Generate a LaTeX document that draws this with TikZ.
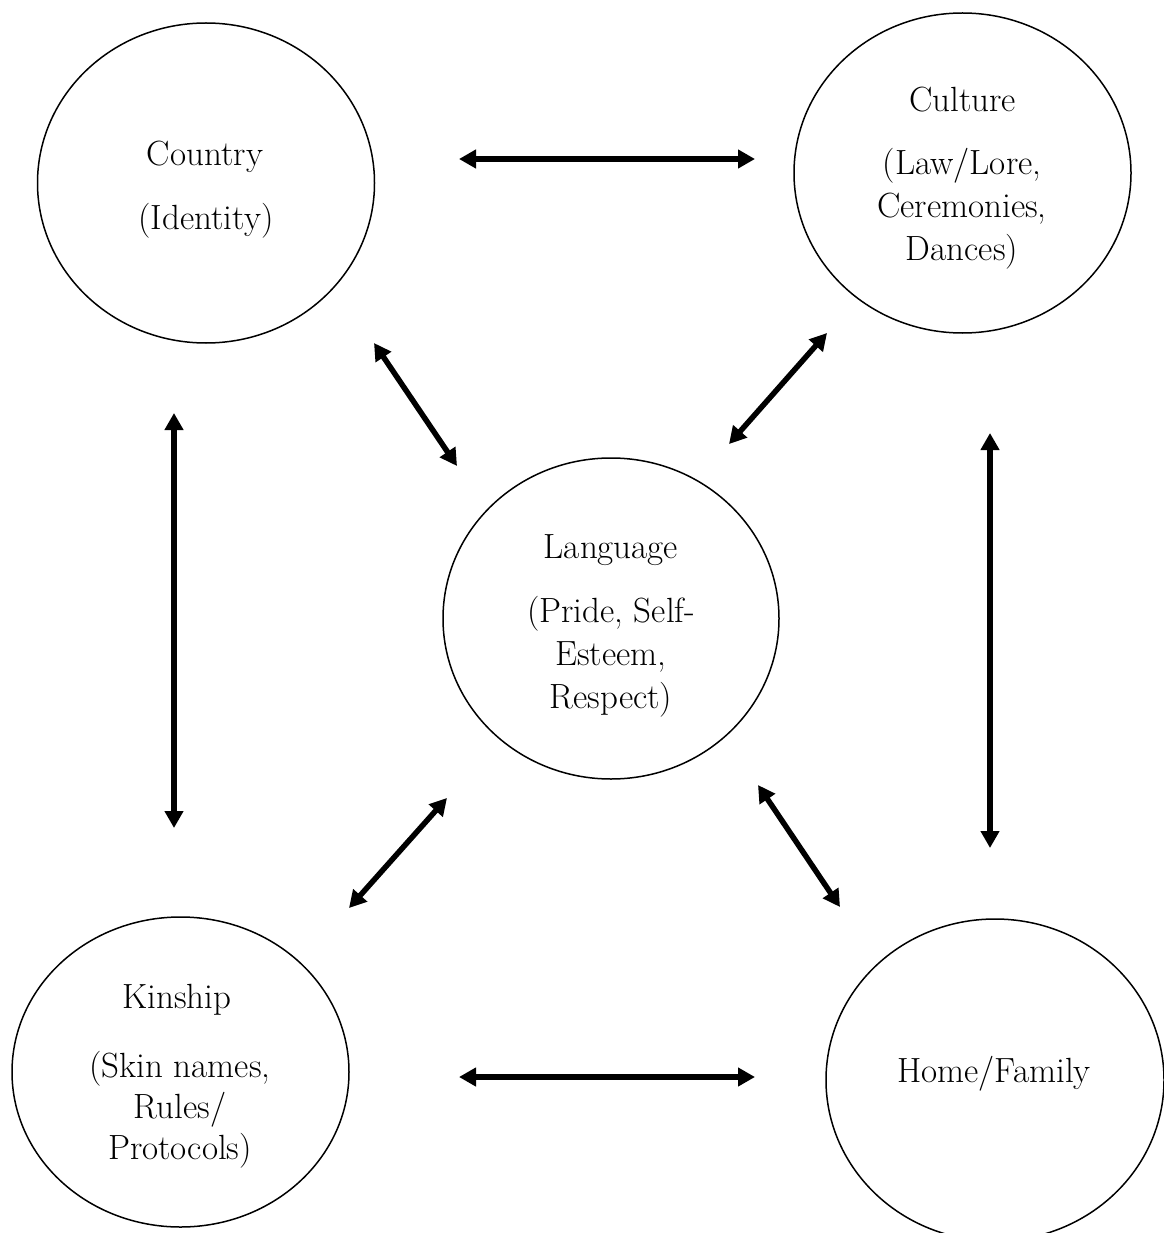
\documentclass[tikz,border=0pt]{standalone}
\usetikzlibrary{shapes.geometric,arrows.meta}
\begin{document}
\begin{tikzpicture}[x=1pt,y=-1pt,
  bubble/.style={draw=black,line width=1.5pt,ellipse,inner sep=0pt},
  txt/.style={anchor=base,inner sep=0pt,font=\fontsize{35}{42}\selectfont},
  biarrow/.style={line width=5.5pt,{Triangle[length=17pt,width=18pt]}-{Triangle[length=17pt,width=18pt]}}]
\useasboundingbox (0,0) rectangle (1163,1233);
% circles
\node[bubble,minimum width=337pt,minimum height=320pt] (country) at (206,183) {};
\node[bubble,minimum width=337pt,minimum height=320pt] (culture) at (962.5,173) {};
\node[bubble,minimum width=336pt,minimum height=321pt] (language) at (611,618.5) {};
\node[bubble,minimum width=337pt,minimum height=310pt] (kinship) at (180.5,1072) {};
\node[bubble,minimum width=338pt,minimum height=322pt] (home) at (995,1080) {};
% texts
\node[txt] (countryA) at (205,166) {Country};
\node[txt] (countryB) at (206,230) {(Identity)};
\node[txt] (cultureA) at (962.5,112) {Culture};
\node[txt] (cultureB) at (962,175) {(Law/Lore,};
\node[txt] (cultureC) at (962,218) {Ceremonies,};
\node[txt] (cultureD) at (962,260) {Dances)};
\node[txt] (languageA) at (611,558) {Language};
\node[txt] (languageB) at (611,622) {(Pride, Self-};
\node[txt] (languageC) at (611,665) {Esteem,};
\node[txt] (languageD) at (611,708) {Respect)};
\node[txt] (kinshipA) at (177,1008) {Kinship};
\node[txt] (kinshipB) at (180,1077) {(Skin names,};
\node[txt] (kinshipC) at (180,1118) {Rules/};
\node[txt] (kinshipD) at (180,1159) {Protocols)};
\node[txt] (homeA) at (994,1082) {Home/Family};
% arrow end points
\coordinate (a1) at (459,159);
\coordinate (b1) at (755,159);
\coordinate (a2) at (374,343);
\coordinate (b2) at (457,466);
\coordinate (a3) at (827,333);
\coordinate (b3) at (729,444);
\coordinate (a4) at (174,413);
\coordinate (b4) at (174,828);
\coordinate (a5) at (990,433);
\coordinate (b5) at (990,848);
\coordinate (a6) at (447,798);
\coordinate (b6) at (349,908);
\coordinate (a7) at (758,785);
\coordinate (b7) at (840,907);
\coordinate (a8) at (459,1077);
\coordinate (b8) at (755,1077);
% arrows
\draw[biarrow] (a1) -- (b1);
\draw[biarrow] (a2) -- (b2);
\draw[biarrow] (a3) -- (b3);
\draw[biarrow] (a4) -- (b4);
\draw[biarrow] (a5) -- (b5);
\draw[biarrow] (a6) -- (b6);
\draw[biarrow] (a7) -- (b7);
\draw[biarrow] (a8) -- (b8);
\end{tikzpicture}
\end{document}
